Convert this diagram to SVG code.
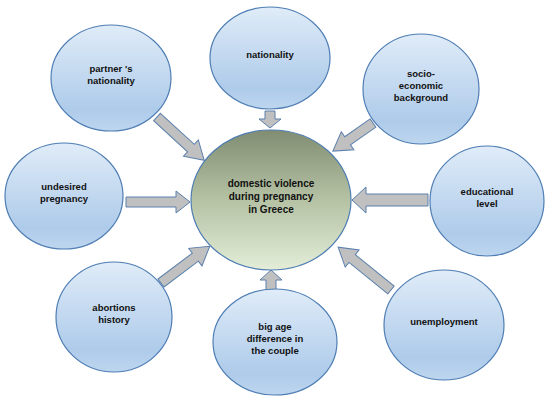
<svg xmlns="http://www.w3.org/2000/svg" width="550" height="404" viewBox="0 0 550 404">
<defs>
<linearGradient id="blue" x1="0" y1="0" x2="0" y2="1">
<stop offset="0" stop-color="#e0ecf8"/>
<stop offset="0.8" stop-color="#aecbea"/>
<stop offset="1" stop-color="#bed6ef"/>
</linearGradient>
<linearGradient id="green" x1="0" y1="0" x2="0" y2="1">
<stop offset="0" stop-color="#808d72"/>
<stop offset="0.5" stop-color="#b5c2a4"/>
<stop offset="1" stop-color="#e3edd8"/>
</linearGradient>
</defs>
<style>
.node{fill:url(#blue);stroke:#4e7db3;stroke-width:1.2}
.center{fill:url(#green);stroke:#4e7db3;stroke-width:1.2}
.arr{fill:#c0c0c0;stroke:#5b80ad;stroke-width:1}
text{font-family:"Liberation Sans",Arial,sans-serif;font-weight:bold;font-size:9.5px;fill:#111;text-anchor:middle}
.ct{font-size:10px}
</style>
<rect width="550" height="404" fill="#fff"/>
<g id="connectors">
<polygon class="arr" points="0,-5 46,-5 46,-11 64,0 46,11 46,5 0,5" transform="translate(157,117) rotate(42.5)"/>
<polygon class="arr" points="0,-5 31,-5 31,-11 49,0 31,11 31,5 0,5" transform="translate(373,123) rotate(145)"/>
<polygon class="arr" points="0,-5 43,-5 43,-11 61,0 43,11 43,5 0,5" transform="translate(161,283) rotate(-37)"/>
<polygon class="arr" points="0,-5 50,-5 50,-11 68,0 50,11 50,5 0,5" transform="translate(391,290) rotate(-141)"/>
<polygon class="arr" points="0,-5 50,-5 50,-11 64,0 50,11 50,5 0,5" transform="translate(126,202)"/>
<polygon class="arr" points="0,-6 62,-6 62,-13 76,0 62,13 62,6 0,6" transform="translate(428,200) rotate(180)"/>
<polygon class="arr" points="0,-5 8,-5 8,-11 17,0 8,11 8,5 0,5" transform="translate(270,111) rotate(90)"/>
<polygon class="arr" points="0,-5 10,-5 10,-11 20,0 10,11 10,5 0,5" transform="translate(271,290) rotate(-90)"/>
</g>
<g id="center">
<ellipse class="center" cx="271" cy="200" rx="80" ry="70"/>
<text class="ct" x="271" y="187">domestic violence</text>
<text class="ct" x="271" y="200">during pregnancy</text>
<text class="ct" x="271" y="213">in Greece</text>
</g>
<g id="partner">
<ellipse class="node" cx="111" cy="78" rx="60" ry="53"/>
<text x="111" y="72">partner 's</text>
<text x="111" y="84">nationality</text>
</g>
<g id="nationality">
<ellipse class="node" cx="270" cy="58" rx="60" ry="51"/>
<text x="270" y="58">nationality</text>
</g>
<g id="socio">
<ellipse class="node" cx="421" cy="89" rx="58" ry="55"/>
<text x="421" y="77">socio-</text>
<text x="421" y="89">economic</text>
<text x="421" y="101">background</text>
</g>
<g id="educational">
<ellipse class="node" cx="487" cy="201" rx="57" ry="55"/>
<text x="487" y="195">educational</text>
<text x="487" y="207">level</text>
</g>
<g id="undesired">
<ellipse class="node" cx="64" cy="196" rx="59" ry="53"/>
<text x="64" y="190">undesired</text>
<text x="64" y="202">pregnancy</text>
</g>
<g id="abortions">
<ellipse class="node" cx="114" cy="317" rx="58" ry="55"/>
<text x="114" y="311">abortions</text>
<text x="114" y="323">history</text>
</g>
<g id="bigage">
<ellipse class="node" cx="275" cy="342" rx="62" ry="53"/>
<text x="275" y="330">big age</text>
<text x="275" y="342">difference in</text>
<text x="275" y="354">the couple</text>
</g>
<g id="unemployment">
<ellipse class="node" cx="444" cy="325" rx="60" ry="55"/>
<text x="444" y="325">unemployment</text>
</g>
</svg>
